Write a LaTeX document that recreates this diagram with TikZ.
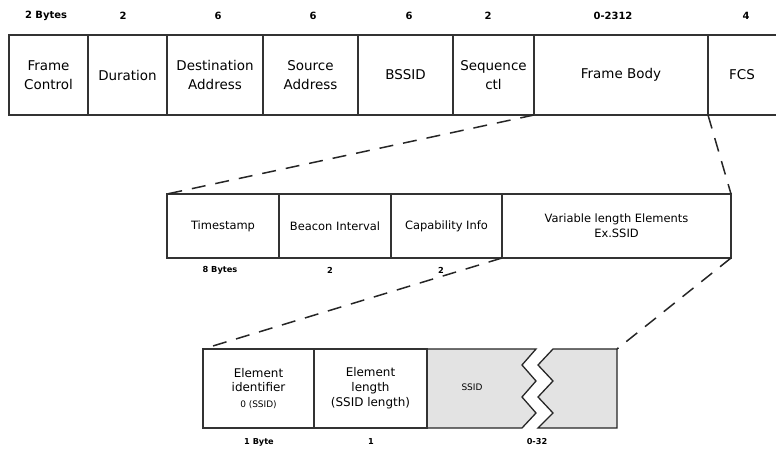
\documentclass[tikz,border=0pt]{standalone}
\usepackage{fontspec}
\setmainfont{DejaVu Sans}
\begin{document}
\begin{tikzpicture}[x=1bp,y=-1bp,
  frame/.style={draw=black!80, line width=1.5bp},
  cellA/.style={frame, minimum height=80bp, inner sep=0pt, outer sep=0pt, anchor=north west, align=center, font=\fontsize{13.5}{19}\selectfont},
  cellB/.style={frame, minimum height=64bp, inner sep=0pt, outer sep=0pt, anchor=north west, align=center, font=\fontsize{11.5}{15}\selectfont},
  cellC/.style={frame, minimum height=79bp, inner sep=0pt, outer sep=0pt, anchor=north west, align=center, font=\fontsize{12}{15}\selectfont},
  toplbl/.style={font=\fontsize{10}{12}\selectfont\bfseries, inner sep=0pt},
  midlbl/.style={font=\fontsize{8.3}{10}\selectfont\bfseries, inner sep=0pt},
  botlbl/.style={font=\fontsize{8.2}{10}\selectfont\bfseries, inner sep=0pt},
  dashline/.style={line width=1.5bp, draw=black!85, dash pattern=on 14bp off 10bp},
  shaded/.style={fill=black!11, draw=black!85, line width=1.3bp, line join=miter}
]
\useasboundingbox (0,0) rectangle (776,450);

% top row
\node[cellA, minimum width=79bp] (fc) at (9,35) {Frame\\Control};
\node[cellA, minimum width=79bp] (dur) at (88,35) {Duration};
\node[cellA, minimum width=96bp] (dst) at (167,35) {Destination\\Address};
\node[cellA, minimum width=95bp] (src) at (263,35) {Source\\Address};
\node[cellA, minimum width=95bp] (bss) at (358,35) {BSSID};
\node[cellA, minimum width=81bp] (seq) at (453,35) {Sequence\\ctl};
\node[cellA, minimum width=174bp] (body) at (534,35) {Frame Body};
\node[cellA, draw=none, minimum width=68bp] (fcs) at (708,35) {FCS};
\draw[frame] (fcs.north west) -- (fcs.north east);
\draw[frame] (fcs.south west) -- (fcs.south east);

\node[toplbl] (l1) at (46,16) {2 Bytes};
\node[toplbl] (l2) at (123,16) {2};
\node[toplbl] (l3) at (218,16) {6};
\node[toplbl] (l4) at (313,16) {6};
\node[toplbl] (l5) at (409,16) {6};
\node[toplbl] (l6) at (488,16) {2};
\node[toplbl] (l7) at (613,16) {0-2312};
\node[toplbl] (l8) at (746,16) {4};

% middle row
\node[cellB, minimum width=112bp] (ts) at (167,194) {Timestamp};
\node[cellB, minimum width=112bp] (bi) at (279,194) {Beacon Interval};
\node[cellB, minimum width=111bp] (ci) at (391,194) {Capability Info};
\node[cellB, minimum width=229bp] (vl) at (502,194) {Variable length Elements\\Ex.SSID};

\node[midlbl] (m1) at (220,270) {8 Bytes};
\node[midlbl] (m2) at (330,270) {2};
\node[midlbl] (m3) at (441,270) {2};

% bottom row
\path[shaded] (427,349) -- (536,349) -- (522,365) -- (536,381) -- (522,397) -- (536,413) -- (522,428) -- (427,428) -- cycle;
\path[shaded] (553,349) -- (617,349) -- (617,428) -- (538,428) -- (553,413) -- (538,397) -- (553,381) -- (538,365) -- cycle;
\coordinate (ssidne) at (617,349);
\node[cellC, minimum width=111bp] (ei) at (203,349) {Element\\identifier\\[1bp]{\fontsize{9}{11}\selectfont 0 (SSID)}};
\node[cellC, minimum width=113bp] (el) at (314,349) {Element\\length\\(SSID length)};
\node[font=\fontsize{9}{11}\selectfont, inner sep=0pt] (ssid) at (472,387) {SSID};

\node[botlbl] (b1) at (259,442) {1 Byte};
\node[botlbl] (b2) at (371,442) {1};
\node[botlbl] (b3) at (537,442) {0-32};

% zoom connectors
\draw[dashline] (seq.south east) -- (ts.north west);
\draw[dashline] (fcs.south west) -- (vl.north east);
\draw[dashline] (ci.south east) -- (ei.north west);
\draw[dashline] (vl.south east) -- (ssidne);
\end{tikzpicture}
\end{document}
